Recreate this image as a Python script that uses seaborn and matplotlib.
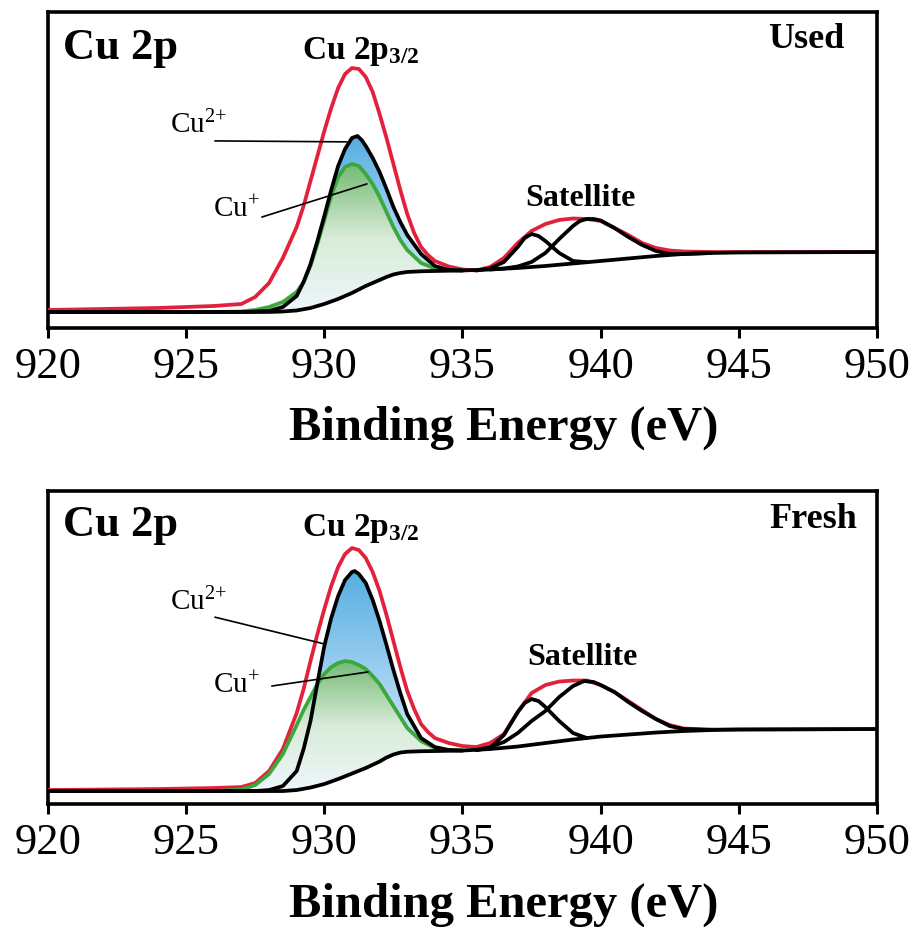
import numpy as np
import matplotlib
matplotlib.use("Agg")
import matplotlib.pyplot as plt
from matplotlib.colors import LinearSegmentedColormap
from matplotlib.patches import Polygon
import seaborn as sns

# ---- Used sample (intensity in arbitrary units) ----
used_bg_e = [920, 928, 928.5, 929, 929.5, 930, 930.5, 931, 931.5, 932, 932.25, 932.5, 932.75,
             933, 933.5, 934, 935, 936, 937, 938, 939, 940, 941, 942, 943, 944, 945, 950]
used_bg_i = [12, 12, 12.5, 13.5, 16, 20, 25, 31, 38, 44, 47, 49.5, 51,
             52, 52.7, 53, 53.5, 54.5, 56, 58, 60.5, 63, 65.5, 68, 70, 71, 71.5, 72]

used_env_e = [920, 924, 926, 927, 927.5, 928, 928.5, 929, 929.25, 929.5, 929.75, 930, 930.25,
              930.5, 930.75, 931, 931.25, 931.5, 931.75, 932, 932.25, 932.5, 932.75, 933,
              933.25, 933.5, 933.75, 934, 934.5, 935, 935.5, 936, 936.5, 937, 937.5, 938,
              938.5, 939, 939.5, 940, 940.5, 941, 941.5, 942, 942.5, 943, 944, 950]
used_env_i = [14, 16, 18, 20, 27, 41, 66, 97, 118, 143, 168, 193, 216,
              236, 250, 256, 255, 247, 232, 210, 186, 160, 134, 110,
              91, 77, 69, 63, 57.5, 54.5, 53.5, 57, 66, 81, 93, 100,
              104, 105.5, 105, 103, 96, 89, 81, 76, 73.5, 72.5, 72, 72]

used_cu2_e = [920, 927, 928, 928.5, 929, 929.25, 929.5, 929.75, 930, 930.25, 930.5, 930.75,
              931, 931.2, 931.35, 931.5, 931.75, 932, 932.25, 932.5, 932.75, 933, 933.5, 934,
              934.5, 935]
used_cu2_i = [12, 12, 13, 17, 28, 42, 60, 83, 108, 134, 158, 175,
              186, 188, 184, 178, 166, 152, 135, 117, 102, 89, 70, 58,
              54, 53.5]

used_cu1_e = [920, 926, 927, 927.5, 928, 928.5, 929, 929.25, 929.5, 929.75, 930, 930.25,
              930.5, 930.75, 931, 931.25, 931.5, 931.75, 932, 932.25, 932.5, 932.75, 933,
              933.5, 934, 934.5, 935]
used_cu1_i = [12, 12, 12.5, 14, 17, 22, 32, 42, 58, 80, 104, 128,
              147, 157, 160, 158, 150, 140, 127, 112, 97, 84, 74,
              61, 55.5, 54, 53.5]

used_sat1_e = [935.5, 936, 936.5, 937, 937.25, 937.5, 937.75, 938, 938.5, 939, 939.5]
used_sat1_i = [53.5, 55.5, 62, 77, 86, 90, 88, 83, 71, 63, 61.8]

used_sat2_e = [936, 936.5, 937, 937.5, 938, 938.5, 939, 939.25, 939.5, 939.75, 940, 940.5,
               941, 941.5, 942, 942.5, 943, 944]
used_sat2_i = [54.5, 55.5, 57.5, 62, 71, 85, 98, 103, 105, 105, 103.5, 96,
               87, 79, 73, 70, 70, 71]

# ---- Fresh sample ----
fresh_bg_e = [920, 928.5, 929, 929.5, 930, 930.5, 931, 931.5, 932, 932.25, 932.5, 932.75,
              933, 933.5, 934, 935, 936, 937, 938, 939, 940, 941, 942, 943, 944, 945, 950]
fresh_bg_i = [10, 10, 11, 13.5, 17, 22, 27.5, 33, 39.5, 43.5, 46.5, 48.5,
              49.3, 49.8, 50, 50.5, 52, 54.5, 58, 61.5, 64.5, 66.5, 68.5, 70, 71, 71.5, 72]

fresh_env_e = [920, 924, 926, 927, 927.5, 928, 928.5, 929, 929.25, 929.5, 929.75, 930,
               930.25, 930.5, 930.75, 931, 931.25, 931.5, 931.75, 932, 932.25, 932.5,
               932.75, 933, 933.25, 933.5, 933.75, 934, 934.5, 935, 935.5, 936, 936.5, 937,
               937.5, 938, 938.5, 939, 939.5, 940, 940.5, 941, 941.5, 942, 942.5, 943, 944,
               950]
fresh_env_i = [11, 12, 13, 14, 18, 30, 52, 88, 112, 140, 167, 192,
               215, 234, 247, 253, 251, 243, 229, 210, 186, 160,
               134, 110, 92, 77, 69, 63, 58, 55, 54, 58, 67, 89,
               108, 116, 119.5, 120.5, 120.5, 116, 109, 100, 91, 82, 76, 72.5, 71.5,
               72]

fresh_cu2_e = [920, 927.5, 928, 928.5, 929, 929.25, 929.5, 929.75, 930, 930.25, 930.5,
               930.75, 931, 931.1, 931.25, 931.5, 931.75, 932, 932.25, 932.5, 932.75, 933,
               933.5, 934, 934.5, 935]
fresh_cu2_i = [10, 10, 11, 15, 30, 52, 80, 118, 155, 183, 205,
               221, 229, 230, 227, 218, 201, 180, 156, 131, 108, 87,
               63, 54, 51, 50.5]

fresh_cu1_e = [920, 926, 927, 927.5, 928, 928.5, 929, 929.25, 929.5, 929.75, 930, 930.25,
               930.5, 930.75, 931, 931.25, 931.5, 931.75, 932, 932.25, 932.5, 932.75, 933,
               933.5, 934, 934.5, 935]
fresh_cu1_i = [10, 10, 11.5, 16, 27, 47, 76, 91, 104, 117, 127, 134,
               138, 140, 139, 136, 132, 125, 117, 106, 95, 84, 73,
               60, 53, 51, 50.5]

fresh_sat1_e = [935.5, 936, 936.5, 937, 937.25, 937.5, 937.75, 938, 938.5, 939, 939.5]
fresh_sat1_i = [51, 53, 66, 89, 98, 102, 100, 94, 80, 68, 63]

fresh_sat2_e = [935.5, 936, 936.5, 937, 937.5, 938, 938.5, 939, 939.4, 939.75, 940, 940.5,
                941, 941.5, 942, 942.5, 943, 944]
fresh_sat2_i = [51, 54, 59, 68, 80, 90, 104, 115, 120, 119, 116, 109,
                99, 90, 82, 75, 72, 71]

ticks = [920, 925, 930, 935, 940, 945, 950]

RED = "#e3213b"
GREEN = "#3aa83c"
blue_cmap = LinearSegmentedColormap.from_list("b", ["#e4f1fa", "#a3d2f1", "#55ade2"])
green_cmap = LinearSegmentedColormap.from_list("g", ["#eef6fb", "#d8ecd8", "#74ba74"])

sns.set_style("white")
plt.rcParams["font.family"] = ["Liberation Serif", "DejaVu Serif"]
plt.rcParams["mathtext.fontset"] = "custom"
plt.rcParams["mathtext.rm"] = "Liberation Serif"
plt.rcParams["mathtext.bf"] = "Liberation Serif:bold"
plt.rcParams["mathtext.it"] = "Liberation Serif:italic"
for key in ["text.color", "axes.labelcolor", "xtick.color", "ytick.color", "axes.edgecolor"]:
    plt.rcParams[key] = "black"


def gradient_fill(ax, x, y, bx, by, cmap, zorder):
    # fill between a component and the background with a vertical gradient
    x = np.asarray(x, float)
    y = np.asarray(y, float)
    bx = np.asarray(bx, float)
    by = np.asarray(by, float)
    m = (bx > x.min()) & (bx < x.max())
    px = np.r_[x, bx[m][::-1]]
    py = np.r_[y, by[m][::-1]]
    poly = Polygon(np.column_stack([px, py]), closed=True, facecolor="none", edgecolor="none")
    ax.add_patch(poly)
    grad = np.linspace(0, 1, 256).reshape(-1, 1)
    im = ax.imshow(grad, cmap=cmap, aspect="auto", origin="lower",
                   extent=[x.min(), x.max(), by.min(), y.max()], zorder=zorder)
    im.set_clip_path(poly)


def draw_panel(ax, d, ylim, tag, texts):
    gradient_fill(ax, d["cu2_e"], d["cu2_i"], d["bg_e"], d["bg_i"], blue_cmap, 1)
    gradient_fill(ax, d["cu1_e"], d["cu1_i"], d["bg_e"], d["bg_i"], green_cmap, 1.5)

    lw = 2.7
    sns.lineplot(x=d["env_e"], y=d["env_i"], ax=ax, color=RED, linewidth=lw, zorder=3)
    sns.lineplot(x=d["cu1_e"], y=d["cu1_i"], ax=ax, color=GREEN, linewidth=lw, zorder=4)
    sns.lineplot(x=d["bg_e"], y=d["bg_i"], ax=ax, color="black", linewidth=lw, zorder=5)
    sns.lineplot(x=d["cu2_e"], y=d["cu2_i"], ax=ax, color="black", linewidth=lw, zorder=5)
    sns.lineplot(x=d["sat1_e"], y=d["sat1_i"], ax=ax, color="black", linewidth=lw, zorder=5)
    sns.lineplot(x=d["sat2_e"], y=d["sat2_i"], ax=ax, color="black", linewidth=lw, zorder=5)

    ax.set_xlim(920, 950)
    ax.set_ylim(*ylim)
    ax.set_xticks(ticks)
    ax.set_yticks([])
    ax.set_ylabel("")
    ax.tick_params(axis="x", direction="out", length=7, width=2.2, labelsize=32, pad=6,
                   bottom=True, colors="black")
    for sp in ax.spines.values():
        sp.set_linewidth(2.6)
        sp.set_color("black")

    ax.set_xlabel("Binding Energy (eV)", fontsize=35, fontweight="bold", color="black")
    ax.xaxis.label.set_va("baseline")
    ax.xaxis.set_label_coords(0.55, texts["xlab_y"])

    ax.text(0.018, texts["title_y"], "Cu 2p", transform=ax.transAxes, fontsize=32,
            fontweight="bold", va="baseline")
    ax.text(0.307, texts["title_y"], r"Cu 2p$_{\mathbf{3/2}}$", transform=ax.transAxes,
            fontsize=24, fontweight="bold", va="baseline")
    ax.text(texts["tag_x"], texts["tag_y"], tag, transform=ax.transAxes, fontsize=26,
            fontweight="bold", va="baseline", ha="right")
    ax.text(texts["sat_x"], texts["sat_y"], "Satellite", transform=ax.transAxes, fontsize=23,
            fontweight="bold", va="baseline", ha="center")
    ax.text(0.147, texts["cu2_y"], r"Cu$^{2{+}}$", transform=ax.transAxes,
            fontsize=21, va="baseline")
    ax.text(0.199, texts["cu1_y"], r"Cu$^{+}$", transform=ax.transAxes,
            fontsize=21, va="baseline")
    for (x0, y0, x1, y1) in texts["leaders"]:
        ax.plot([x0, x1], [y0, y1], transform=ax.transAxes, color="black", linewidth=1.2,
                zorder=6)


used = dict(bg_e=used_bg_e, bg_i=used_bg_i, env_e=used_env_e, env_i=used_env_i,
            cu2_e=used_cu2_e, cu2_i=used_cu2_i, cu1_e=used_cu1_e, cu1_i=used_cu1_i,
            sat1_e=used_sat1_e, sat1_i=used_sat1_i, sat2_e=used_sat2_e, sat2_i=used_sat2_i)
fresh = dict(bg_e=fresh_bg_e, bg_i=fresh_bg_i, env_e=fresh_env_e, env_i=fresh_env_i,
             cu2_e=fresh_cu2_e, cu2_i=fresh_cu2_i, cu1_e=fresh_cu1_e, cu1_i=fresh_cu1_i,
             sat1_e=fresh_sat1_e, sat1_i=fresh_sat1_i, sat2_e=fresh_sat2_e, sat2_i=fresh_sat2_i)

fig = plt.figure(figsize=(9.14, 9.28), dpi=100)
ax1 = fig.add_axes([0.0525, 0.6455, 0.907, 0.3405])
ax2 = fig.add_axes([0.0525, 0.1325, 0.907, 0.3373])

draw_panel(ax1, used, (-4, 312), "Used",
           dict(xlab_y=-0.351, title_y=0.854, tag_x=0.961, tag_y=0.889, sat_x=0.642,
                sat_y=0.389, cu2_y=0.620, cu1_y=0.354,
                leaders=[(0.2014, 0.592, 0.3607, 0.589), (0.258, 0.351, 0.3848, 0.456)]))
draw_panel(ax2, fresh, (-3, 310), "Fresh",
           dict(xlab_y=-0.358, title_y=0.859, tag_x=0.976, tag_y=0.885, sat_x=0.645,
                sat_y=0.447, cu2_y=0.623, cu1_y=0.358,
                leaders=[(0.2014, 0.597, 0.334, 0.511), (0.270, 0.377, 0.386, 0.422)]))

fig.savefig("out.png", dpi=100)
plt.close(fig)
